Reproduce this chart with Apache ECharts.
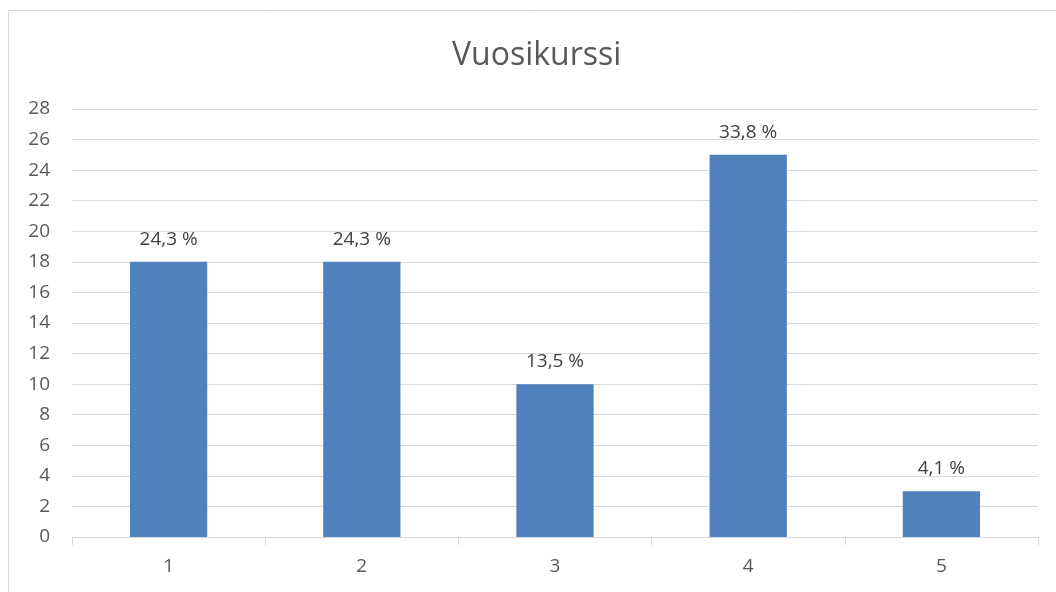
<!DOCTYPE html>
<html>
<head>
<meta charset="utf-8">
<script src="https://cdn.jsdelivr.net/npm/echarts@6/dist/echarts.min.js"></script>
<style>
  html, body { margin: 0; padding: 0; background: #fff; }
  #main { width: 1056px; height: 592px; }
</style>
</head>
<body>
<div id="main"></div>
<script>
const categories = ['1', '2', '3', '4', '5']
const counts = [18, 18, 10, 25, 3]
const percentLabels = ['24,3 %', '24,3 %', '13,5 %', '33,8 %', '4,1 %']

const chart = echarts.init(document.getElementById('main'))

const option = {
  backgroundColor: '#fff',
  animation: false,
  textStyle: { fontFamily: 'Open Sans, Noto Sans, sans-serif' },
  title: {
    text: 'Vuosikurssi',
    left: 452,
    top: 40,
    padding: 0,
    textStyle: { fontSize: 32, fontWeight: 'normal', color: '#595959', fontFamily: 'Open Sans, Noto Sans, sans-serif' }
  },
  graphic: [
    {
      type: 'rect',
      shape: { x: 8.5, y: 10.5, width: 1060, height: 600 },
      style: { fill: 'none', stroke: '#d9d9d9', lineWidth: 1 },
      silent: true
    }
  ],
  grid: { left: 72, right: 18, top: 109, bottom: 55 },
  xAxis: {
    type: 'category',
    data: categories,
    axisLine: { lineStyle: { color: '#d9d9d9', width: 1 } },
    axisTick: { show: true, length: 8, lineStyle: { color: '#d9d9d9' } },
    axisLabel: { color: '#595959', fontSize: 19, margin: 20 }
  },
  yAxis: {
    type: 'value',
    min: 0,
    max: 28,
    interval: 2,
    axisLine: { show: false },
    axisTick: { show: false },
    axisLabel: { color: '#595959', fontSize: 19, margin: 22 },
    splitLine: { lineStyle: { color: '#d9d9d9', width: 1 } }
  },
  series: [
    {
      type: 'bar',
      data: counts,
      barWidth: '40%',
      itemStyle: { color: '#4f81bd' },
      label: {
        show: true,
        position: 'top',
        distance: 13,
        color: '#404040',
        fontSize: 19,
        formatter: p => percentLabels[p.dataIndex]
      }
    }
  ]
}

chart.setOption(option)
</script>
</body>
</html>
